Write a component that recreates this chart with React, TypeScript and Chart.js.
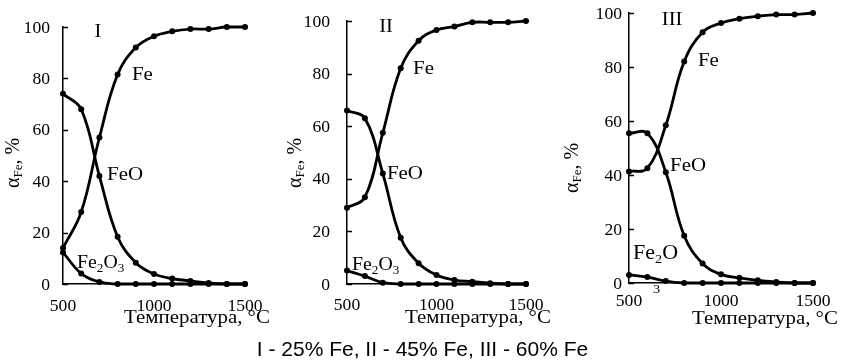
import React, { useEffect, useRef } from "react";
import { Chart, registerables } from "chart.js";

Chart.register(...registerables);

// ---------- data ----------
const temperatures = [500, 600, 700, 800, 900, 1000, 1100, 1200, 1300, 1400, 1500];
const xTickValues = [500, 1000, 1500];
const yTickValues = [0, 20, 40, 60, 80, 100];

// Panel I (25% Fe)
const feI = [14, 28, 57, 81.5, 92, 96.4, 98.3, 99.2, 99.2, 100, 100];
const feoI = [74, 68, 42, 18.4, 8.3, 3.9, 2.1, 1.2, 0.4, 0, 0];
const fe2o3I = [12.3, 4.1, 0.8, 0, 0, 0, 0, 0, 0, 0, 0];

// Panel II (45% Fe)
const feII = [29, 33, 57.5, 82, 92.5, 96.6, 97.9, 99.5, 99.5, 99.5, 100];
const feoII = [66, 63, 42, 17.6, 7.9, 3.4, 1.5, 0.9, 0.3, 0, 0];
const fe2o3II = [5.1, 3, 0.5, 0, 0, 0, 0, 0, 0, 0, 0];

// Panel III (60% Fe)
const feIII = [41.3, 42.5, 58.4, 82, 92.9, 96.3, 97.9, 98.8, 99.4, 99.4, 100];
const feoIII = [55.5, 55.5, 41, 17.5, 7.2, 3.2, 1.9, 1, 0.4, 0, 0];
const fe2o3III = [3, 2.2, 0.7, 0, 0, 0, 0, 0, 0, 0, 0];

const panelNames = ["I", "II", "III"];
const xTitle = "Температура, °C";
const caption = "I - 25% Fe, II - 45% Fe, III - 60% Fe";

// ---------- layout / style ----------
const SERIF = '"Liberation Serif", "Times New Roman", serif';
const SANS = '"Liberation Sans", Arial, sans-serif';
const SX = 1.14;
const W = 845;
const H = 361;

type Part = { t: string; sub?: boolean };
type Layout = {
  left: number; right: number; top: number; bottom: number;
  yGap: number; xTickDy: number; titleBase: number; yTitleX: number; yTitleY: number;
  nameAt: [number, number]; feAt: [number, number]; feoAt: [number, number];
  oxAt: [number, number]; oxParts: Part[]; oxSize: number; hidden3?: boolean;
  caption?: boolean;
};

const layouts: Layout[] = [
  {
    left: 63, right: 245, top: 27, bottom: 284, yGap: 13, xTickDy: 27, titleBase: 323,
    yTitleX: 14, yTitleY: 163,
    nameAt: [692, 98.4], feAt: [879, 79.4], feoAt: [742, 40.5], oxAt: [577, 6.2],
    oxParts: [{ t: "Fe" }, { t: "2", sub: true }, { t: "O" }, { t: "3", sub: true }], oxSize: 18,
  },
  {
    left: 347, right: 526, top: 21, bottom: 284, yGap: 17, xTickDy: 26, titleBase: 323,
    yTitleX: 296, yTitleY: 163,
    nameAt: [718, 98.1], feAt: [869, 79.8], feoAt: [723, 39.9], oxAt: [528, 5.3],
    oxParts: [{ t: "Fe" }, { t: "2", sub: true }, { t: "O" }, { t: "3", sub: true }], oxSize: 18,
  },
  {
    left: 629, right: 813, top: 13, bottom: 283, yGap: 7, xTickDy: 23, titleBase: 324,
    yTitleX: 573, yTitleY: 168,
    nameAt: [734, 97.8], feAt: [875, 80.4], feoAt: [723, 41.5], oxAt: [522, 8.9],
    oxParts: [{ t: "Fe" }, { t: "2", sub: true }, { t: "O" }], oxSize: 20, hidden3: true,
    caption: true,
  },
];

const seriesSets = [
  [feI, feoI, fe2o3I],
  [feII, feoII, fe2o3II],
  [feIII, feoIII, fe2o3III],
];

function drawText(
  ctx: CanvasRenderingContext2D, s: string, x: number, y: number, size: number,
  align: CanvasTextAlign, sx = SX, family = SERIF
) {
  ctx.save();
  ctx.translate(x, y);
  ctx.scale(sx, 1);
  ctx.font = `${size}px ${family}`;
  ctx.textAlign = align;
  ctx.textBaseline = "alphabetic";
  ctx.fillStyle = "#000";
  ctx.fillText(s, 0, 0);
  ctx.restore();
}

function drawParts(ctx: CanvasRenderingContext2D, parts: Part[], x: number, y: number, size: number, sx: number) {
  ctx.save();
  ctx.translate(x, y);
  ctx.scale(sx, 1);
  ctx.fillStyle = "#000";
  ctx.textAlign = "left";
  ctx.textBaseline = "alphabetic";
  let cx = 0;
  for (const p of parts) {
    const fs = p.sub ? Math.round(size * 0.65) : size;
    ctx.font = `${fs}px ${SERIF}`;
    ctx.fillText(p.t, cx, p.sub ? size * 0.22 : 0);
    cx += ctx.measureText(p.t).width;
  }
  ctx.restore();
}

function makePlugin(lay: Layout, name: string) {
  return {
    id: "decor" + name,
    afterDraw(chart: any) {
      const ctx: CanvasRenderingContext2D = chart.ctx;
      const xs = chart.scales.x;
      const ys = chart.scales.y;
      const px = (v: number) => xs.getPixelForValue(v);
      const py = (v: number) => ys.getPixelForValue(v);

      // inner y tick marks
      ctx.save();
      ctx.strokeStyle = "#000";
      ctx.lineWidth = 1.5;
      for (const v of yTickValues) {
        const y = Math.round(py(v)) + 0.5;
        ctx.beginPath();
        ctx.moveTo(chart.chartArea.left, y);
        ctx.lineTo(chart.chartArea.left + 5, y);
        ctx.stroke();
      }
      ctx.restore();

      // y tick labels
      for (const v of yTickValues) {
        drawText(ctx, String(v), chart.chartArea.left - lay.yGap, py(v) + 5.5, 16, "right", 1.1);
      }
      // x tick labels
      for (const v of xTickValues) {
        drawText(ctx, String(v), px(v), chart.chartArea.bottom + lay.xTickDy, 16, "center", 1.1);
      }
      // x title
      drawText(ctx, xTitle, chart.chartArea.right - 48, lay.titleBase, 18, "center", 1.16);

      // y title: α_Fe, %
      ctx.save();
      ctx.translate(lay.yTitleX, lay.yTitleY);
      ctx.rotate(-Math.PI / 2);
      ctx.fillStyle = "#000";
      ctx.textBaseline = "middle";
      ctx.textAlign = "left";
      const big = `20px ${SERIF}`;
      const small = `13px ${SERIF}`;
      ctx.font = big;
      const wa = ctx.measureText("α").width;
      const wc = ctx.measureText(", %").width;
      ctx.font = small;
      const wf = ctx.measureText("Fe").width;
      let cx = -(wa + wf + wc) / 2;
      ctx.font = big;
      ctx.fillText("α", cx, 0);
      cx += wa;
      ctx.font = small;
      ctx.fillText("Fe", cx, 5);
      cx += wf;
      ctx.font = big;
      ctx.fillText(", %", cx, 0);
      ctx.restore();

      // panel name
      drawText(ctx, name, px(lay.nameAt[0]), py(lay.nameAt[1]) + 6, 18, "center");
      // series labels
      drawParts(ctx, [{ t: "Fe" }], px(lay.feAt[0]), py(lay.feAt[1]), 19, 1.1);
      drawParts(ctx, [{ t: "FeO" }], px(lay.feoAt[0]), py(lay.feoAt[1]), 19, 1.1);
      drawParts(ctx, lay.oxParts, px(lay.oxAt[0]), py(lay.oxAt[1]), lay.oxSize, 1.1);
      if (lay.hidden3) {
        ctx.save();
        ctx.beginPath();
        ctx.rect(0, chart.chartArea.bottom + 2, W, 20);
        ctx.clip();
        drawText(ctx, "3", px(630), chart.chartArea.bottom + 10, 13, "left", 1.1);
        ctx.restore();
      }

      if (lay.caption) {
        drawText(ctx, caption, W / 2, 356, 21, "center", 1, SANS);
      }
    },
  };
}

function Panel({ index }: { index: number }) {
  const ref = useRef<HTMLCanvasElement>(null);
  useEffect(() => {
    const lay = layouts[index];
    const sets = seriesSets[index];
    const ds = sets.map((arr, k) => ({
      label: ["Fe", "FeO", "Fe2O3"][k],
      data: temperatures.map((t, i) => ({ x: t, y: arr[i] })),
      borderColor: "#000",
      backgroundColor: "#000",
      borderWidth: 2.8,
      pointRadius: 3,
      pointBorderWidth: 0,
      pointBackgroundColor: "#000",
      tension: 0.4,
      clip: false as any,
      fill: false,
    }));
    const chart = new Chart(ref.current!, {
      type: "line",
      data: { datasets: ds as any },
      options: {
        responsive: false,
        animation: false,
        devicePixelRatio: 1,
        layout: {
          padding: { left: lay.left, right: W - lay.right, top: lay.top, bottom: H - lay.bottom },
        },
        plugins: { legend: { display: false }, tooltip: { enabled: false } },
        scales: {
          x: {
            type: "linear",
            min: 500,
            max: 1500,
            ticks: { display: false, stepSize: 500 },
            grid: { display: false, drawTicks: false },
            border: { display: true, color: "#000", width: 1.5 },
            afterFit: (s: any) => { s.height = 0; },
          },
          y: {
            min: 0,
            max: 100,
            ticks: { display: false, stepSize: 20 },
            grid: { display: false, drawTicks: false },
            border: { display: true, color: "#000", width: 1.5 },
            afterFit: (s: any) => { s.width = 0; },
          },
        },
      },
      plugins: [makePlugin(lay, panelNames[index])],
    });
    return () => chart.destroy();
  }, [index]);
  return (
    <canvas
      ref={ref}
      width={W}
      height={H}
      style={{ position: "absolute", left: 0, top: 0, width: W, height: H }}
    />
  );
}

export default function App() {
  return (
    <div
      style={{
        position: "fixed",
        left: 0,
        top: 0,
        width: W,
        height: H,
        background: "#fff",
        overflow: "hidden",
      }}
    >
      <Panel index={0} />
      <Panel index={1} />
      <Panel index={2} />
    </div>
  );
}
